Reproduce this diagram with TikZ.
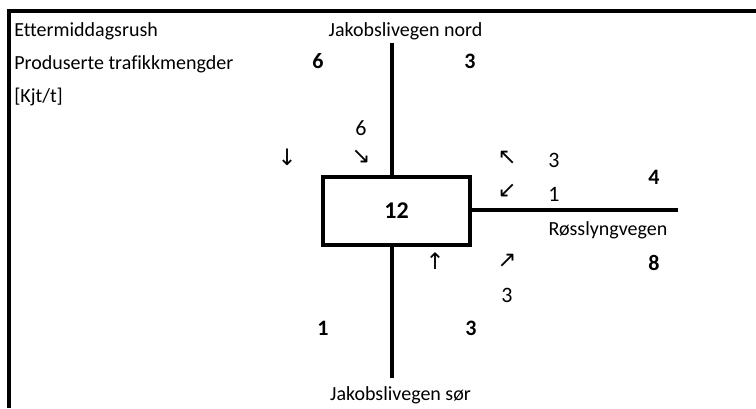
\documentclass[tikz,border=0pt]{standalone}
\usepackage{fontspec}
\setmainfont{Carlito}[Ligatures=NoCommon]
\newfontfamily\arrowfont{DejaVu Sans}

\begin{document}
\begin{tikzpicture}[
    x=0.75pt, y=-0.75pt,
    font=\fontsize{15}{18}\selectfont,
    % Styles
    frame/.style={line width=3pt},
    road/.style={line width=3pt},
    junction/.style={
        draw, line width=3pt, minimum width=110.25pt, minimum height=51pt,
        inner sep=0pt, font=\fontsize{18}{21}\selectfont\bfseries
    },
    txt/.style={inner sep=0pt, anchor=base west},
    street/.style={inner sep=0pt, anchor=base},
    total/.style={inner sep=0pt, font=\fontsize{16.5}{20}\selectfont\bfseries},
    flow/.style={inner sep=0pt, font=\fontsize{16.5}{20}\selectfont},
    turn/.style={inner sep=0pt, font=\fontsize{17}{20}\selectfont\arrowfont}
]
\useasboundingbox (0,0) rectangle (756,408);

% --- Frame ---
\draw[frame] (9,408) -- (9,11) -- (756,11);

% --- Heading ---
\node[txt] (title) at (14,36) {Ettermiddagsrush};
\node[txt] (subtitle) at (14,69) {Produserte trafikkmengder};
\node[txt] (unit) at (14,102) {[Kjt/t]};

% --- Junction ---
\node[junction] (kryss) at (396.5,211) {12};

% road ends
\coordinate (nord) at (392,43);
\coordinate (sor) at (392,378);
\coordinate (ost) at (678,209.5);

% --- Roads ---
\draw[road] (kryss.north -| nord) -- (nord);
\draw[road] (kryss.south -| sor) -- (sor);
\draw[road] (kryss.east |- ost) -- (ost);

% --- Street names ---
\node[street] (navn_nord) at (405.5,36) {Jakobslivegen nord};
\node[street] (navn_sor) at (400.5,400) {Jakobslivegen sør};
\node[street] (navn_ost) at (608,235) {Røsslyngvegen};

% --- Totals per arm ---
\node[total] (nord_v) at (318,61) {6};
\node[total] (nord_h) at (470,61) {3};
\node[total] (ost_inn) at (654,177) {4};
\node[total] (ost_ut) at (654,263) {8};
\node[total] (sor_v) at (323,328) {1};
\node[total] (sor_h) at (471,328) {3};

% --- Turning flows ---
\node[flow] (f_nord) at (361,128) {6};
\node[turn] (p_nord) at (361,157) {↘};
\node[turn] (p_ned) at (287,157) {↓};

\node[turn] (p_ost1) at (507,158) {↖};
\node[flow] (f_ost1) at (554,160) {3};
\node[turn] (p_ost2) at (507,191) {↙};
\node[flow] (f_ost2) at (554,194) {1};

\node[turn] (p_sor) at (507,261) {↗};
\node[flow] (f_sor) at (507,295) {3};
\node[turn] (p_opp) at (435,261) {↑};

\end{tikzpicture}
\end{document}
